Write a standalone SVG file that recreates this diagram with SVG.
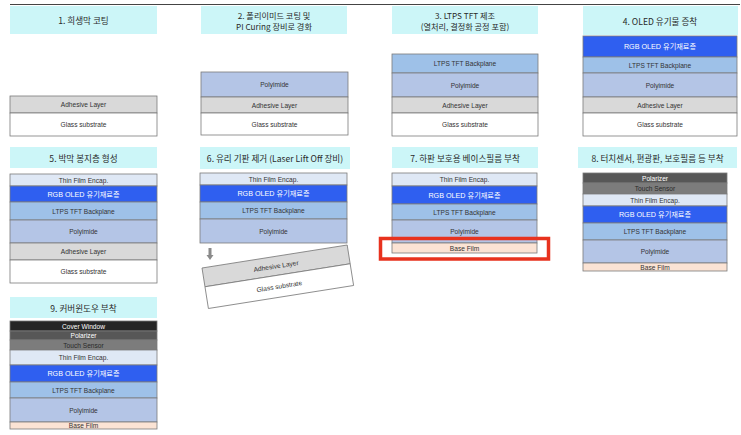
<svg xmlns="http://www.w3.org/2000/svg" width="741" height="435" viewBox="0 0 741 435">
<style>
.hd{fill:#ccf6f8}
.ht{font-family:"Noto Sans CJK KR","Liberation Sans",sans-serif;font-size:8.6px;fill:#2a2a2a;text-anchor:middle;dominant-baseline:central}
.h2{font-size:8.2px}
.lt{font-family:"Liberation Sans","Noto Sans CJK KR",sans-serif;font-size:6.6px;fill:#333;text-anchor:middle;dominant-baseline:central}
.lw{font-family:"Liberation Sans","Noto Sans CJK KR",sans-serif;font-size:7.2px;fill:#fff;text-anchor:middle;dominant-baseline:central}
.L{stroke:#7a7a7a;stroke-width:0.8}
.adh{fill:#d9d9d9}
.gls{fill:#ffffff}
.pi{fill:#b4c5e6}
.tft{fill:#9ec1e8}
.rgb{fill:#2f5ff0}
.tfe{fill:#dfe8f5}
.base{fill:#fbe3d4}
.tch{fill:#7c7c7c}
.pol{fill:#575757}
.cov{fill:#262626}
</style>
<line x1="10" y1="4.5" x2="740" y2="4.5" stroke="#444" stroke-width="1"/>

<g id="step1">
<rect class="hd" x="10" y="6" width="147" height="28"/>
<text class="ht" x="83.5" y="20">1. 희생막 코팅</text>
<rect class="L adh" x="10" y="96" width="147" height="17"/>
<text class="lt" x="83.5" y="104.5">Adhesive Layer</text>
<rect class="L gls" x="10" y="113" width="147" height="23"/>
<text class="lt" x="83.5" y="124.5">Glass substrate</text>
</g>

<g id="step2">
<rect class="hd" x="201" y="6" width="146" height="28"/>
<text class="ht h2" x="274" y="14.5">2. 폴리이미드 코팅 및</text>
<text class="ht h2" x="274" y="26">PI Curing 장비로 경화</text>
<rect class="L pi" x="201" y="72" width="147" height="25"/>
<text class="lt" x="274.5" y="84.5">Polyimide</text>
<rect class="L adh" x="201" y="97" width="147" height="16"/>
<text class="lt" x="274.5" y="105">Adhesive Layer</text>
<rect class="L gls" x="201" y="113" width="147" height="22"/>
<text class="lt" x="274.5" y="124">Glass substrate</text>
</g>

<g id="step3">
<rect class="hd" x="392" y="6" width="146" height="28"/>
<text class="ht h2" x="465" y="14.5">3. LTPS TFT 제조</text>
<text class="ht h2" x="465" y="26">(열처리, 결정화 공정 포함)</text>
<rect class="L tft" x="392" y="54" width="146" height="19"/>
<text class="lt" x="465" y="63.5">LTPS TFT Backplane</text>
<rect class="L pi" x="392" y="73" width="146" height="24"/>
<text class="lt" x="465" y="85">Polyimide</text>
<rect class="L adh" x="392" y="97" width="146" height="16"/>
<text class="lt" x="465" y="105">Adhesive Layer</text>
<rect class="L gls" x="392" y="113" width="146" height="23"/>
<text class="lt" x="465" y="124.5">Glass substrate</text>
</g>

<g id="step4">
<rect class="hd" x="583" y="6" width="155" height="29"/>
<text class="ht" x="660" y="20.5">4. OLED 유기물 증착</text>
<rect class="L rgb" x="583" y="36" width="154" height="21"/>
<text class="lw" x="660" y="46.5">RGB OLED 유기재료층</text>
<rect class="L tft" x="583" y="57" width="154" height="16"/>
<text class="lt" x="660" y="65">LTPS TFT Backplane</text>
<rect class="L pi" x="583" y="73" width="154" height="24"/>
<text class="lt" x="660" y="85">Polyimide</text>
<rect class="L adh" x="583" y="97" width="154" height="16"/>
<text class="lt" x="660" y="105">Adhesive Layer</text>
<rect class="L gls" x="583" y="113" width="154" height="23"/>
<text class="lt" x="660" y="124.5">Glass substrate</text>
</g>

<g id="step5">
<rect class="hd" x="10" y="147" width="147" height="21"/>
<text class="ht" x="83.5" y="157.5">5. 박막 봉지층 형성</text>
<rect class="L tfe" x="10" y="174" width="147" height="12"/>
<text class="lt" x="83.5" y="180">Thin Film Encap.</text>
<rect class="L rgb" x="10" y="186" width="147" height="16"/>
<text class="lw" x="83.5" y="194">RGB OLED 유기재료층</text>
<rect class="L tft" x="10" y="202" width="147" height="18"/>
<text class="lt" x="83.5" y="211">LTPS TFT Backplane</text>
<rect class="L pi" x="10" y="220" width="147" height="23"/>
<text class="lt" x="83.5" y="231.5">Polyimide</text>
<rect class="L adh" x="10" y="243" width="147" height="17"/>
<text class="lt" x="83.5" y="251.5">Adhesive Layer</text>
<rect class="L gls" x="10" y="260" width="147" height="23"/>
<text class="lt" x="83.5" y="271.5">Glass substrate</text>
</g>

<g id="step6">
<rect class="hd" x="200" y="147" width="150" height="22"/>
<text class="ht" x="275" y="158">6. 유리 기판 제거 (Laser Lift Off 장비)</text>
<rect class="L tfe" x="200" y="173" width="147" height="12"/>
<text class="lt" x="273.5" y="179">Thin Film Encap.</text>
<rect class="L rgb" x="200" y="185" width="147" height="17"/>
<text class="lw" x="273.5" y="193.5">RGB OLED 유기재료층</text>
<rect class="L tft" x="200" y="202" width="147" height="17"/>
<text class="lt" x="273.5" y="210.5">LTPS TFT Backplane</text>
<rect class="L pi" x="200" y="219" width="147" height="24"/>
<text class="lt" x="273.5" y="231">Polyimide</text>
<g transform="translate(202,268) rotate(-9)">
<rect class="L adh" x="0" y="0" width="147" height="19"/>
<text class="lt" x="73.5" y="9.5">Adhesive Layer</text>
<rect class="L gls" x="0" y="19" width="147" height="22"/>
<text class="lt" x="73.5" y="30">Glass substrate</text>
</g>
</g>

<g id="connectors">
<path d="M208.5,248 h3 v7 h2 l-3.5,5 l-3.5,-5 h2 z" fill="#8a8a8a"/>
</g>

<g id="step7">
<rect class="hd" x="392" y="147" width="146" height="21"/>
<text class="ht" x="465" y="157.5">7. 하판 보호용 베이스필름 부착</text>
<rect class="L tfe" x="392" y="173" width="145" height="13"/>
<text class="lt" x="464.5" y="179.5">Thin Film Encap.</text>
<rect class="L rgb" x="392" y="186" width="145" height="18"/>
<text class="lw" x="464.5" y="195">RGB OLED 유기재료층</text>
<rect class="L tft" x="392" y="204" width="145" height="16"/>
<text class="lt" x="464.5" y="212">LTPS TFT Backplane</text>
<rect class="L pi" x="392" y="220" width="145" height="23"/>
<text class="lt" x="464.5" y="231.5">Polyimide</text>
<rect class="L base" x="392" y="243" width="145" height="10"/>
<text class="lt" x="464.5" y="248">Base Film</text>
<rect x="380.5" y="238.5" width="168" height="20.5" fill="none" stroke="#e8321e" stroke-width="3.5"/>
</g>

<g id="step8">
<rect class="hd" x="578" y="147" width="159" height="21"/>
<text class="ht" x="657.5" y="157.5">8. 터치센서, 편광판, 보호필름 등 부착</text>
<rect class="L pol" x="583" y="173" width="144" height="10"/>
<text class="lw" x="655" y="178" style="font-size:6.6px">Polarizer</text>
<rect class="L tch" x="583" y="183" width="144" height="11"/>
<text class="lt" x="655" y="188.5" style="fill:#2a2a2a">Touch Sensor</text>
<rect class="L tfe" x="583" y="194" width="144" height="12"/>
<text class="lt" x="655" y="200">Thin Film Encap.</text>
<rect class="L rgb" x="583" y="206" width="144" height="17"/>
<text class="lw" x="655" y="214.5">RGB OLED 유기재료층</text>
<rect class="L tft" x="583" y="223" width="144" height="17"/>
<text class="lt" x="655" y="231.5">LTPS TFT Backplane</text>
<rect class="L pi" x="583" y="240" width="144" height="23"/>
<text class="lt" x="655" y="251.5">Polyimide</text>
<rect class="L base" x="583" y="263" width="144" height="8"/>
<text class="lt" x="655" y="267">Base Film</text>
</g>

<g id="step9">
<rect class="hd" x="10" y="297" width="147" height="21"/>
<text class="ht" x="83.5" y="307.5">9. 커버윈도우 부착</text>
<rect class="L cov" x="10" y="321" width="147" height="10"/>
<text class="lw" x="83.5" y="326" style="font-size:6.6px">Cover Window</text>
<rect class="L pol" x="10" y="331" width="147" height="9"/>
<text class="lw" x="83.5" y="335.5" style="font-size:6.6px">Polarizer</text>
<rect class="L tch" x="10" y="340" width="147" height="10"/>
<text class="lt" x="83.5" y="345" style="fill:#2a2a2a">Touch Sensor</text>
<rect class="L tfe" x="10" y="350" width="147" height="15"/>
<text class="lt" x="83.5" y="357.5">Thin Film Encap.</text>
<rect class="L rgb" x="10" y="365" width="147" height="17"/>
<text class="lw" x="83.5" y="373.5">RGB OLED 유기재료층</text>
<rect class="L tft" x="10" y="382" width="147" height="16"/>
<text class="lt" x="83.5" y="390">LTPS TFT Backplane</text>
<rect class="L pi" x="10" y="398" width="147" height="24"/>
<text class="lt" x="83.5" y="410">Polyimide</text>
<rect class="L base" x="10" y="422" width="147" height="7"/>
<text class="lt" x="83.5" y="425.5">Base Film</text>
</g>
</svg>
